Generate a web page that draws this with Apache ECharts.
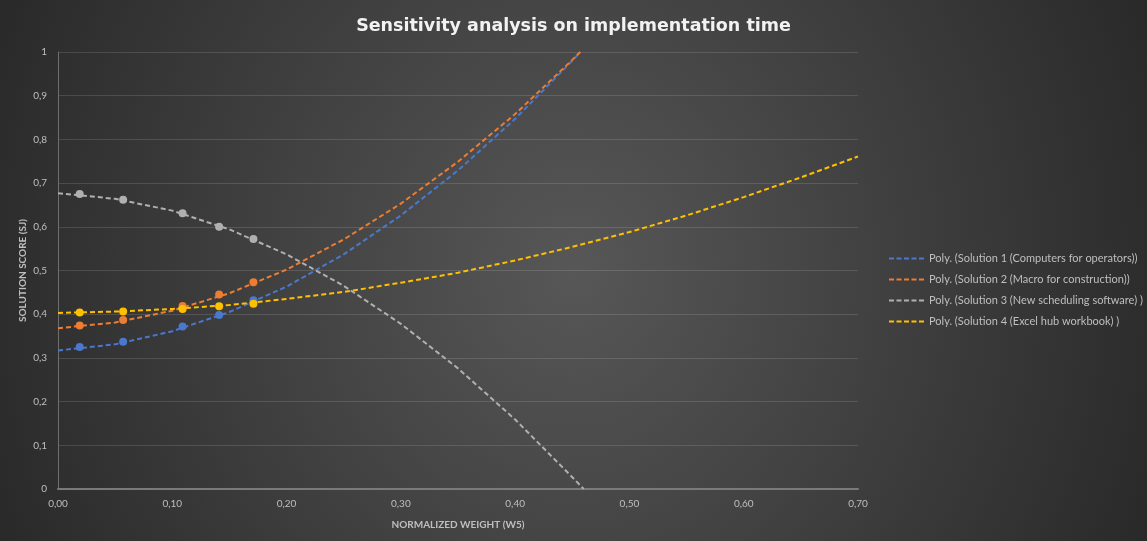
<!DOCTYPE html>
<html>
<head>
<meta charset="utf-8">
<script src="https://cdn.jsdelivr.net/npm/echarts@6/dist/echarts.min.js"></script>
<style>
  html, body { margin: 0; padding: 0; }
  #chart {
    width: 1147px;
    height: 541px;
    background: radial-gradient(640px 700px at 50% 50%, #575757 0%, #282828 100%);
  }
</style>
</head>
<body>
<div id="chart"></div>
<script>
// Texts
const titleText = 'Sensitivity analysis on implementation time';
const xAxisName = 'NORMALIZED WEIGHT (W5)';
const yAxisName = 'SOLUTION SCORE (SJ)';
const xTickLabels = ['0,00', '0,10', '0,20', '0,30', '0,40', '0,50', '0,60', '0,70'];
const yTickLabels = ['0', '0,1', '0,2', '0,3', '0,4', '0,5', '0,6', '0,7', '0,8', '0,9', '1'];
const solutionNames = [
  'Solution 1 (Computers for operators)',
  'Solution 2 (Macro for construction)',
  'Solution 3 (New scheduling software)',
  'Solution 4 (Excel hub workbook)'
];
const trendNames = [
  'Poly. (Solution 1 (Computers for operators))',
  'Poly. (Solution 2 (Macro for construction))',
  'Poly. (Solution 3 (New scheduling software) )',
  'Poly. (Solution 4 (Excel hub workbook) )'
];
const colors = ['#4A78CC', '#ED7D31', '#B0B0B0', '#FFC000'];

// Observed scores at each normalized weight
const weights = [0.019, 0.057, 0.109, 0.141, 0.171];
const solution1 = [0.325, 0.337, 0.372, 0.398, 0.432];
const solution2 = [0.374, 0.387, 0.419, 0.445, 0.473];
const solution3 = [0.675, 0.662, 0.631, 0.600, 0.572];
const solution4 = [0.404, 0.406, 0.412, 0.418, 0.424];

// Polynomial trendlines, sampled along the weight axis
const trend1X = [0, 0.05, 0.10, 0.15, 0.20, 0.25, 0.30, 0.35, 0.40, 0.45, 0.457];
const trend1Y = [0.317, 0.331, 0.361, 0.405, 0.463, 0.537, 0.626, 0.729, 0.847, 0.980, 1.0];
const trend2X = [0, 0.05, 0.10, 0.15, 0.20, 0.25, 0.30, 0.35, 0.40, 0.45, 0.457];
const trend2Y = [0.368, 0.381, 0.408, 0.448, 0.502, 0.571, 0.653, 0.749, 0.858, 0.982, 1.0];
const trend3X = [0, 0.05, 0.10, 0.15, 0.20, 0.25, 0.30, 0.35, 0.40, 0.45, 0.460];
const trend3Y = [0.677, 0.664, 0.637, 0.594, 0.537, 0.465, 0.378, 0.276, 0.159, 0.027, 0.0];
const trend4X = [0, 0.05, 0.10, 0.15, 0.20, 0.25, 0.30, 0.35, 0.40, 0.45, 0.50, 0.55, 0.60, 0.65, 0.70];
const trend4Y = [0.403, 0.406, 0.412, 0.421, 0.435, 0.451, 0.472, 0.495, 0.523, 0.554, 0.588, 0.626, 0.668, 0.713, 0.761];

const pointSets = [solution1, solution2, solution3, solution4];
const trendSets = [[trend1X, trend1Y], [trend2X, trend2Y], [trend3X, trend3Y], [trend4X, trend4Y]];

const pair = (xs, ys) => xs.map((x, i) => [x, ys[i]]);
const labelFont = 'Lato, "Open Sans", sans-serif';
const dashIcon = 'path://M0,0H5V2H0Z M7.5,0H12.5V2H7.5Z M15,0H20V2H15Z M22.5,0H27.5V2H22.5Z M30,0H35V2H30Z';

const series = [];
trendSets.forEach((t, i) => {
  series.push({
    name: trendNames[i],
    type: 'line',
    data: pair(t[0], t[1]),
    symbol: 'none',
    smooth: false,
    z: 2,
    color: colors[i],
    lineStyle: { color: colors[i], width: 2, type: [5, 3] },
    emphasis: { disabled: true }
  });
});
pointSets.forEach((p, i) => {
  series.push({
    name: solutionNames[i],
    type: 'scatter',
    data: pair(weights, p),
    symbol: 'circle',
    symbolSize: 8,
    z: 3,
    itemStyle: { color: colors[i], opacity: 1 },
    emphasis: { disabled: true }
  });
});

const chart = echarts.init(document.getElementById('chart'), null, { renderer: 'canvas' });
chart.setOption({
  backgroundColor: 'transparent',
  animation: false,
  title: {
    text: titleText,
    left: 'center',
    top: 17,
    padding: 0,
    textStyle: { color: '#F2F2F2', fontSize: 17.5, fontWeight: 'bold', fontFamily: '"DejaVu Sans", sans-serif' }
  },
  legend: {
    data: trendNames,
    orient: 'vertical',
    left: 889,
    top: 252,
    padding: 0,
    itemWidth: 35,
    itemHeight: 2,
    itemGap: 8,
    icon: dashIcon,
    selectedMode: false,
    textStyle: { color: '#BFBFBF', fontSize: 11, fontFamily: labelFont, lineHeight: 13 }
  },
  grid: { left: 58, right: 289, top: 52, bottom: 52 },
  xAxis: {
    type: 'value',
    min: 0,
    max: 0.7,
    interval: 0.1,
    name: xAxisName,
    nameLocation: 'middle',
    nameGap: 31,
    nameMoveOverlap: false,
    nameTextStyle: { color: '#BFBFBF', fontSize: 10, fontWeight: 'bold', fontFamily: labelFont },
    axisLine: { show: true, lineStyle: { color: '#7A7A7A', width: 2 } },
    axisTick: { show: false },
    splitLine: { show: false },
    axisLabel: {
      color: '#BFBFBF', fontSize: 10, fontFamily: labelFont, margin: 10,
      formatter: v => xTickLabels[Math.round(v * 10)]
    }
  },
  yAxis: {
    type: 'value',
    min: 0,
    max: 1,
    interval: 0.1,
    name: yAxisName,
    nameLocation: 'middle',
    nameRotate: 90,
    nameGap: 30,
    nameMoveOverlap: false,
    nameTextStyle: { color: '#BFBFBF', fontSize: 10, fontWeight: 'bold', fontFamily: labelFont },
    axisLine: { show: true, lineStyle: { color: '#6E6E6E', width: 1 } },
    axisTick: { show: false },
    splitLine: { show: true, lineStyle: { color: 'rgba(255,255,255,0.13)', width: 1 } },
    axisLabel: {
      color: '#BFBFBF', fontSize: 10, fontFamily: labelFont, margin: 11,
      formatter: v => yTickLabels[Math.round(v * 10)]
    }
  },
  series: series
});
</script>
</body>
</html>
